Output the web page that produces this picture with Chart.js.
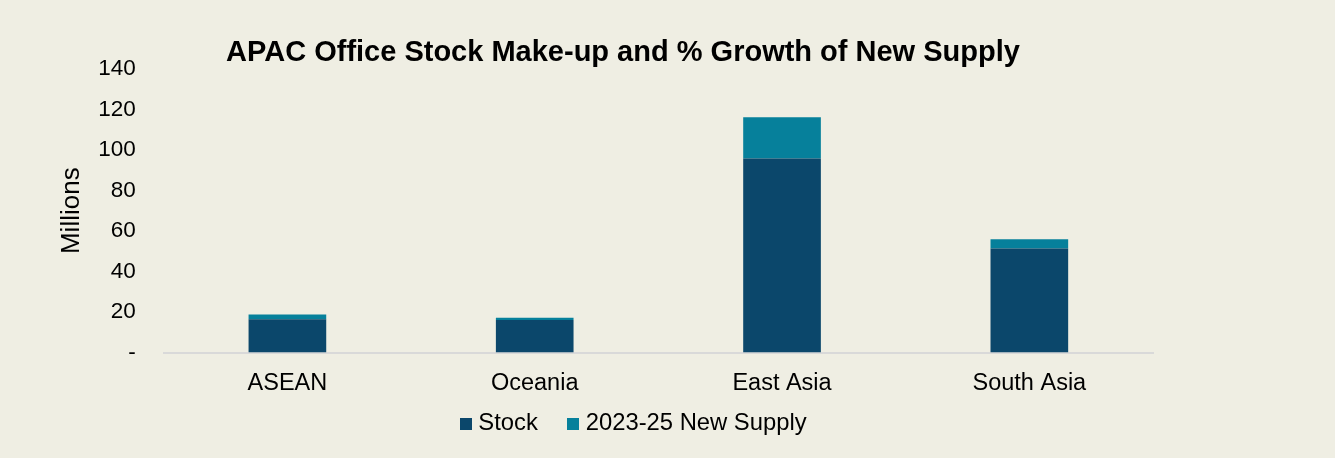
<!DOCTYPE html>
<html>
<head>
<meta charset="utf-8">
<title>APAC Office Stock Make-up and % Growth of New Supply</title>
<script src="https://cdn.jsdelivr.net/npm/chart.js@4/dist/chart.umd.min.js"></script>
<style>
  html, body { margin: 0; padding: 0; background: #EFEEE3; }
  #wrap { width: 1335px; height: 458px; }
</style>
</head>
<body>
<div id="wrap"><canvas id="chart" width="1335" height="458"></canvas></div>
<script>
// Regions and office floor space (millions)
const categories = ['ASEAN', 'Oceania', 'East Asia', 'South Asia'];
const stock = [16.4, 16.0, 95.8, 51.3];
const newSupply = [2.4, 1.2, 20.3, 4.6];
const seriesNames = ['Stock', '2023-25 New Supply'];
const seriesColors = ['#0B476B', '#06809B'];
const yTicks = { min: 0, max: 140, step: 20 };

const FONT = "'Liberation Sans', Arial, sans-serif";
const BG = '#EFEEE3';

// Small square swatch used as the legend marker
function swatch(color) {
  const c = document.createElement('canvas');
  c.width = 12; c.height = 12;
  const g = c.getContext('2d');
  g.fillStyle = color;
  g.fillRect(0, 0, 12, 12);
  return c;
}
const swatches = seriesColors.map(swatch);

// Paints the page colour behind the chart
const background = {
  id: 'background',
  beforeDraw(chart) {
    const { ctx, width, height } = chart;
    ctx.save();
    ctx.fillStyle = BG;
    ctx.fillRect(0, 0, width, height);
    ctx.restore();
  }
};

// Moves the title and legend blocks to their final places after layout
const placeBlocks = {
  id: 'placeBlocks',
  afterLayout(chart) {
    const t = chart.titleBlock;
    if (t) {
      const dx = 623 - (t.left + t.right) / 2;
      t.left += dx; t.right += dx;
      t.top += 3; t.bottom += 3;
    }
    const l = chart.legend;
    if (l) {
      const dx = 636 - (l.left + l.right) / 2;
      l.left += dx; l.right += dx;
      l.top -= 20.5; l.bottom -= 20.5;
    }
  }
};

new Chart(document.getElementById('chart'), {
  type: 'bar',
  data: {
    labels: categories,
    datasets: seriesNames.map((name, i) => ({
      label: name,
      data: i === 0 ? stock : newSupply,
      backgroundColor: seriesColors[i],
      borderWidth: 0,
      barPercentage: 0.314,
      categoryPercentage: 1
    }))
  },
  options: {
    responsive: false,
    devicePixelRatio: 1,
    animation: false,
    layout: { padding: { top: 20, left: 52, right: 182, bottom: -8 } },
    scales: {
      x: {
        stacked: true,
        // hidden tick marks still reserve the gap between axis line and labels
        grid: { display: false, drawTicks: true, tickLength: 16.5 },
        border: { display: true, color: '#D9D9D9', width: 2 },
        ticks: { color: '#000', padding: 0, font: { family: FONT, size: 23.5 } }
      },
      y: {
        stacked: true,
        min: yTicks.min,
        max: yTicks.max,
        grid: { display: false, drawTicks: true, tickLength: 28 },
        border: { display: false },
        ticks: {
          stepSize: yTicks.step,
          padding: 0,
          color: '#000',
          font: { family: FONT, size: 22.5 },
          callback: v => (v === 0 ? '-' : String(v))
        },
        title: {
          display: true,
          text: 'Millions',
          color: '#000',
          padding: { top: 4, bottom: 11 },
          font: { family: FONT, size: 26 }
        }
      }
    },
    plugins: {
      title: {
        display: true,
        text: 'APAC Office Stock Make-up and % Growth of New Supply',
        color: '#000',
        padding: { top: 12.6, bottom: 1.5 },
        font: { family: FONT, size: 29, weight: 'bold' }
      },
      legend: {
        position: 'bottom',
        labels: {
          color: '#000',
          usePointStyle: true,
          pointStyleWidth: 1,
          boxHeight: 12,
          padding: 35,
          font: { family: FONT, size: 23.8 },
          generateLabels(chart) {
            const items = Chart.defaults.plugins.legend.labels.generateLabels(chart);
            items.forEach((it, i) => { it.pointStyle = swatches[i]; });
            return items;
          }
        }
      },
      tooltip: { enabled: false }
    }
  },
  plugins: [background, placeBlocks]
});
</script>
</body>
</html>
